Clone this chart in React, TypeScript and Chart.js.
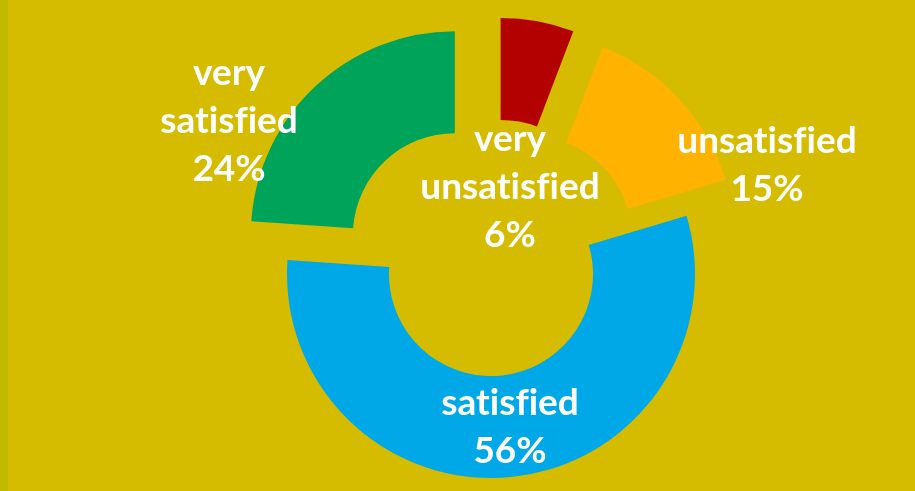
import React, { useEffect, useRef } from "react";
import { Chart, registerables } from "chart.js";

Chart.register(...registerables);

// ---- data ----
const categories = ["very unsatisfied", "unsatisfied", "satisfied", "very satisfied"];
const values = [5.8, 14.6, 55.7, 23.9];
const colors = ["#B30000", "#FFB200", "#00A8E8", "#00A35A"];

// ---- presentation ----
const EXPLODE = [53, 53, 0, 53]; // px each slice is pulled out from the centre
// label anchor (first baseline) relative to the doughnut centre, px
const LABEL_POS: [number, number][] = [
  [19, -123],
  [276, -121],
  [19, 141],
  [-262, -189],
];
const LINE_H = 48;
const FONT = "bold 37px Lato";

const explodePlugin = {
  id: "explode",
  afterDatasetsUpdate(chart: any) {
    const { left, right, top, bottom } = chart.chartArea;
    const cx = (left + right) / 2;
    const cy = (top + bottom) / 2;
    const meta = chart.getDatasetMeta(0);
    meta.data.forEach((el: any, i: number) => {
      const mid = (el.startAngle + el.endAngle) / 2;
      const d = EXPLODE[i] || 0;
      el.x = cx + Math.cos(mid) * d;
      el.y = cy + Math.sin(mid) * d;
    });
  },
};

const labelPlugin = {
  id: "sliceLabels",
  afterDatasetsDraw(chart: any) {
    const { ctx } = chart;
    const { left, right, top, bottom } = chart.chartArea;
    const cx = (left + right) / 2;
    const cy = (top + bottom) / 2;
    const data = chart.data.datasets[0].data as number[];
    const total = data.reduce((a, b) => a + b, 0);
    ctx.save();
    ctx.font = FONT;
    try {
      (ctx as any).textRendering = "optimizeSpeed";
    } catch (e) {}
    ctx.fillStyle = "#FFFFFF";
    ctx.textAlign = "center";
    ctx.textBaseline = "alphabetic";
    (chart.data.labels as string[]).forEach((lab, i) => {
      const lines = lab.split(" ").concat([Math.round((data[i] / total) * 100) + "%"]);
      const [dx, dy] = LABEL_POS[i];
      lines.forEach((ln, k) => {
        ctx.fillText(ln, cx + dx, cy + dy + k * LINE_H);
      });
    });
    ctx.restore();
  },
};

export default function App() {
  const ref = useRef<HTMLCanvasElement | null>(null);

  useEffect(() => {
    document.body.style.margin = "0";
    if (!ref.current) return;
    const chart = new Chart(ref.current, {
      type: "doughnut",
      data: {
        labels: categories,
        datasets: [
          {
            data: values,
            backgroundColor: colors,
            borderWidth: 0,
            hoverOffset: 0,
          },
        ],
      },
      options: {
        responsive: false,
        animation: false,
        radius: 204,
        cutout: "50%",
        rotation: 0,
        layout: { padding: { left: 67, right: 0, top: 57, bottom: 0 } },
        plugins: {
          legend: { display: false },
          tooltip: { enabled: false },
        },
        events: [],
      } as any,
      plugins: [explodePlugin, labelPlugin],
    });
    return () => chart.destroy();
  }, []);

  return (
    <div
      style={{
        position: "fixed",
        left: 0,
        top: 0,
        width: 915,
        height: 491,
        background: "linear-gradient(to right, #C0BA00 0px, #C0BA00 8px, #D5BC00 8px, #D5BC00 100%)",
      }}
    >
      <canvas ref={ref} width={915} height={491} style={{ display: "block" }} />
    </div>
  );
}
